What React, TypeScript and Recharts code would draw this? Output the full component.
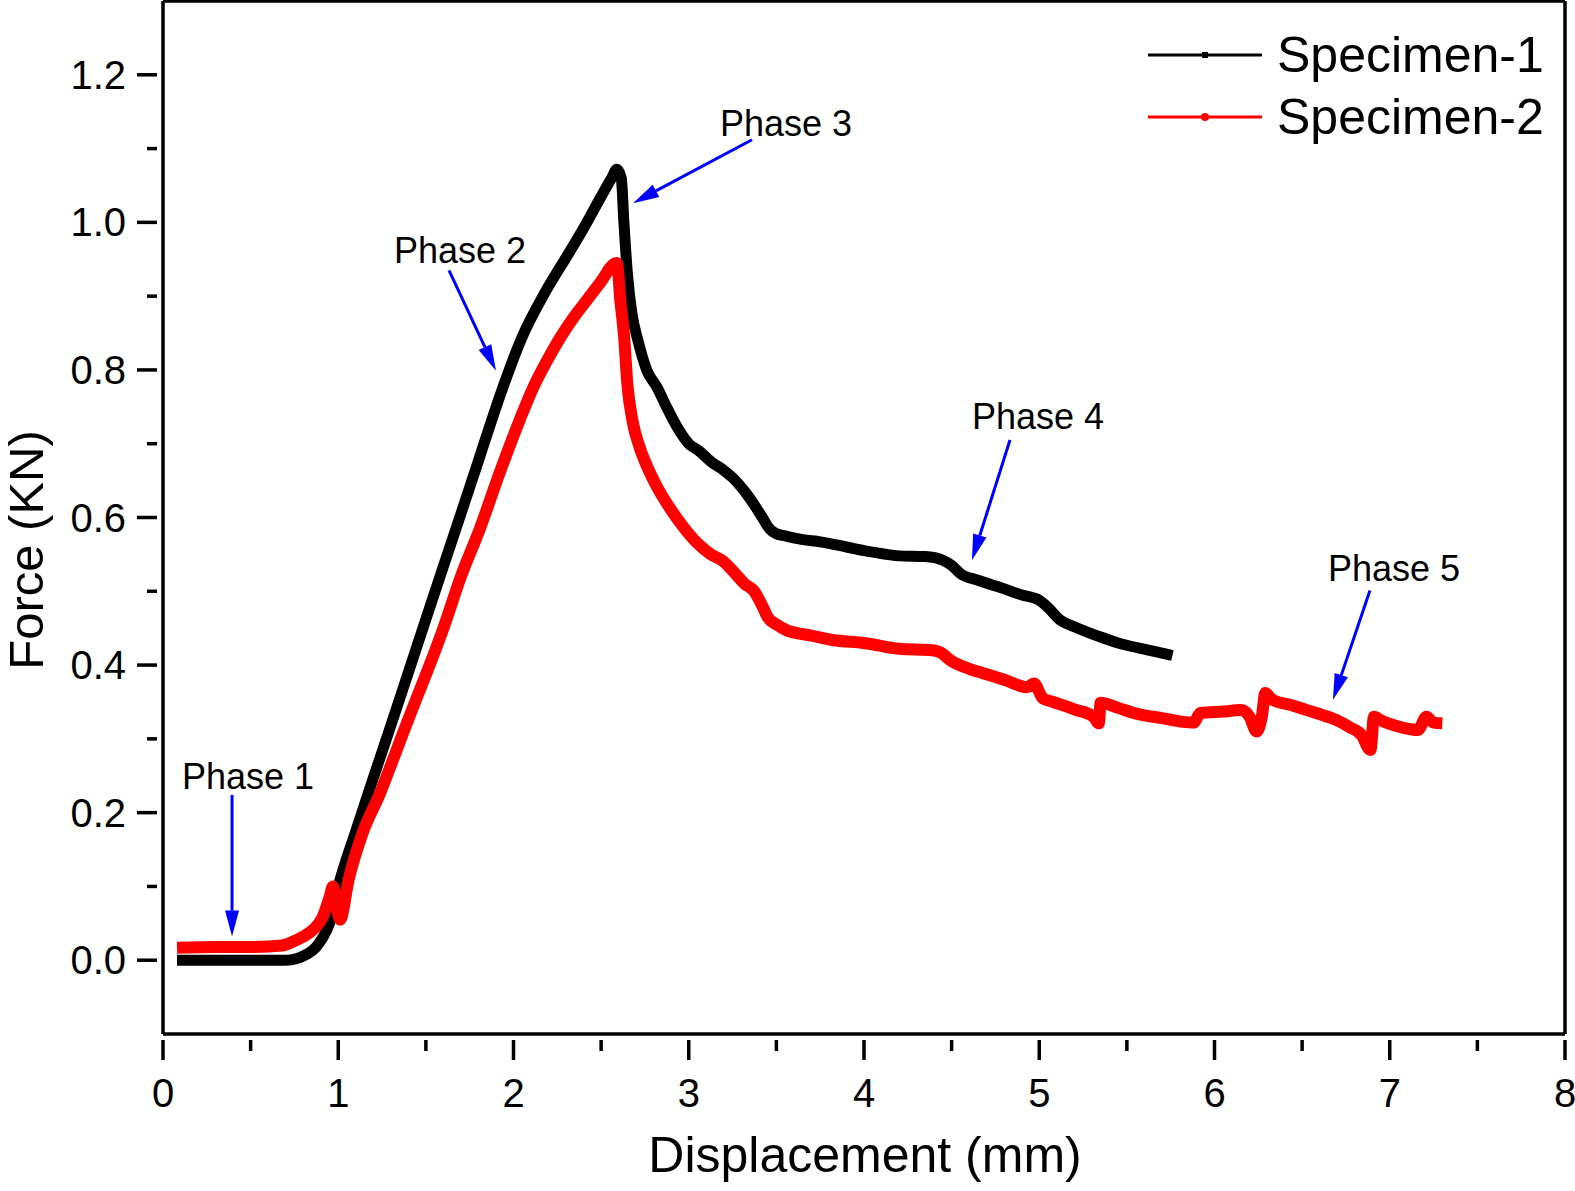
import { LineChart, Line, XAxis, YAxis, ReferenceLine, ReferenceDot, Legend } from "recharts";

const FONT = "'Liberation Sans', Arial, sans-serif";

// Specimen-1 (black)
const s1X = [0.08, 0.3, 0.5, 0.7, 0.76, 0.82, 0.87, 0.91, 0.95, 1.0, 1.1, 1.2, 1.3, 1.4, 1.5, 1.6, 1.7, 1.8, 1.93, 2.05, 2.18, 2.32, 2.4, 2.5, 2.56, 2.59, 2.615, 2.63, 2.65, 2.676, 2.71, 2.76, 2.82, 2.875, 2.94, 3.0, 3.06, 3.13, 3.2, 3.25, 3.33, 3.38, 3.42, 3.46, 3.5, 3.55, 3.65, 3.75, 3.9, 4.05, 4.2, 4.35, 4.45, 4.5, 4.55, 4.65, 4.78, 4.9, 5.0, 5.05, 5.12, 5.2, 5.35, 5.45, 5.57, 5.67, 5.76];
const s1Y = [0, 0, 0, 0, 0.002, 0.008, 0.017, 0.03, 0.05, 0.1, 0.175, 0.247, 0.318, 0.39, 0.462, 0.534, 0.605, 0.677, 0.77, 0.845, 0.905, 0.96, 0.992, 1.035, 1.06, 1.072, 1.06, 1.0, 0.93, 0.876, 0.84, 0.8, 0.776, 0.749, 0.72, 0.7, 0.69, 0.675, 0.664, 0.654, 0.632, 0.615, 0.6, 0.585, 0.578, 0.575, 0.57, 0.567, 0.56, 0.553, 0.548, 0.547, 0.542, 0.535, 0.524, 0.515, 0.505, 0.495, 0.488, 0.478, 0.461, 0.452, 0.438, 0.43, 0.423, 0.418, 0.413];

// Specimen-2 (red)
const s2X = [0.08, 0.3, 0.5, 0.68, 0.74, 0.8, 0.86, 0.91, 0.95, 0.97, 0.99, 1.01, 1.06, 1.14, 1.24, 1.3, 1.37, 1.45, 1.51, 1.6, 1.7, 1.81, 1.92, 2.04, 2.12, 2.19, 2.27, 2.34, 2.42, 2.5, 2.57, 2.59, 2.61, 2.63, 2.65, 2.68, 2.72, 2.77, 2.82, 2.9, 2.97, 3.05, 3.12, 3.2, 3.25, 3.32, 3.37, 3.42, 3.45, 3.5, 3.56, 3.7, 3.82, 4.0, 4.2, 4.39, 4.45, 4.49, 4.6, 4.68, 4.8, 4.93, 4.97, 5.02, 5.08, 5.2, 5.31, 5.34, 5.35, 5.45, 5.54, 5.7, 5.82, 5.88, 5.92, 6.05, 6.15, 6.2, 6.24, 6.27, 6.29, 6.33, 6.45, 6.58, 6.7, 6.77, 6.84, 6.89, 6.91, 6.95, 7.06, 7.16, 7.21, 7.25, 7.3];
const s2Y = [0.017, 0.018, 0.018, 0.02, 0.025, 0.032, 0.042, 0.058, 0.085, 0.1, 0.075, 0.055, 0.11, 0.173, 0.227, 0.264, 0.308, 0.357, 0.393, 0.45, 0.52, 0.586, 0.66, 0.735, 0.78, 0.812, 0.845, 0.87, 0.895, 0.92, 0.943, 0.945, 0.893, 0.849, 0.78, 0.73, 0.695, 0.665, 0.641, 0.61, 0.587, 0.565, 0.551, 0.54, 0.528, 0.51, 0.501, 0.48, 0.465, 0.455, 0.447, 0.44, 0.434, 0.43, 0.422, 0.42, 0.415, 0.407, 0.395, 0.389, 0.38, 0.37, 0.375, 0.355, 0.35, 0.34, 0.33, 0.321, 0.349, 0.342, 0.335, 0.328, 0.323, 0.322, 0.335, 0.337, 0.339, 0.33, 0.31, 0.33, 0.362, 0.353, 0.345, 0.335, 0.325, 0.316, 0.305, 0.285, 0.33, 0.325, 0.316, 0.312, 0.33, 0.322, 0.321];

const seriesNames = ["Specimen-1", "Specimen-2"];
const seriesColors = ["#000000", "#ff0000"];

const xTicks = [0, 0.5, 1, 1.5, 2, 2.5, 3, 3.5, 4, 4.5, 5, 5.5, 6, 6.5, 7, 7.5, 8];
const yTicks = [0, 0.1, 0.2, 0.3, 0.4, 0.5, 0.6, 0.7, 0.8, 0.9, 1.0, 1.1, 1.2];

// annotations
const phaseNames = ["Phase 1", "Phase 2", "Phase 3", "Phase 4", "Phase 5"];
const phaseTextX = [0.485, 1.695, 3.555, 4.993, 7.024];
const phaseTextY = [0.249, 0.962, 1.134, 0.738, 0.532];
const arrowFromX = [0.394, 1.632, 3.361, 4.833, 6.887];
const arrowFromY = [0.224, 0.935, 1.112, 0.705, 0.501];
const arrowToX = [0.394, 1.9, 2.682, 4.616, 6.676];
const arrowToY = [0.032, 0.799, 1.026, 0.542, 0.353];

const s1 = s1X.map((x, i) => ({ x, y: s1Y[i] }));
const s2 = s2X.map((x, i) => ({ x, y: s2Y[i] }));

function XTick(props: any) {
  const { x, y, payload } = props;
  const v = payload.value;
  const major = Number.isInteger(v);
  return (
    <g>
      <line x1={x} x2={x} y1={y} y2={y + (major ? 20 : 11)} stroke="#000" strokeWidth={3.5} />
      {major && (
        <text x={x} y={y + 67} textAnchor="middle" fontSize={40} fontFamily={FONT} fill="#000">
          {v}
        </text>
      )}
    </g>
  );
}

function YTick(props: any) {
  const { x, y, payload } = props;
  const v = payload.value;
  const major = Math.round(v * 10) % 2 === 0;
  return (
    <g>
      <line x1={x} x2={x - (major ? 20 : 10)} y1={y} y2={y} stroke="#000" strokeWidth={3.5} />
      {major && (
        <text x={x - 31} y={y + 14} textAnchor="end" fontSize={40} fontFamily={FONT} fill="#000">
          {v.toFixed(1)}
        </text>
      )}
    </g>
  );
}

function Arrow(props: any) {
  const { x1, y1, x2, y2 } = props;
  const dx = x2 - x1;
  const dy = y2 - y1;
  const len = Math.hypot(dx, dy);
  const ux = dx / len;
  const uy = dy / len;
  const hl = 26;
  const hw = 7;
  const bx = x2 - ux * hl;
  const by = y2 - uy * hl;
  return (
    <g>
      <line x1={x1} y1={y1} x2={bx} y2={by} stroke="#0000ff" strokeWidth={3} />
      <polygon
        points={`${x2},${y2} ${bx - uy * hw},${by + ux * hw} ${bx + uy * hw},${by - ux * hw}`}
        fill="#0000ff"
      />
    </g>
  );
}

function LegendBox() {
  return (
    <svg width={435} height={160}>
      {seriesNames.map((name, i) => {
        const y = 55 + i * 62;
        return (
          <g key={name}>
            <line x1={8} x2={122} y1={y} y2={y} stroke={seriesColors[i]} strokeWidth={3} />
            {i === 0 ? (
              <rect x={62} y={y - 3} width={6} height={6} fill={seriesColors[i]} />
            ) : (
              <circle cx={65} cy={y} r={4} fill={seriesColors[i]} />
            )}
            <text x={137} y={y + 17} fontSize={50} fontFamily={FONT} fill="#000">
              {name}
            </text>
          </g>
        );
      })}
    </svg>
  );
}

export default function App() {
  return (
    <div style={{ position: "absolute", left: 0, top: 0 }}>
      <LineChart width={1575} height={1191} margin={{ top: 1, right: 10, left: 0, bottom: 0 }}>
        <XAxis
          type="number"
          dataKey="x"
          domain={[0, 8]}
          ticks={xTicks}
          interval={0}
          height={157}
          tickLine={false}
          tickMargin={0}
          tick={<XTick />}
          axisLine={{ stroke: "#000", strokeWidth: 3.5 }}
          allowDataOverflow
          label={{
            content: () => (
              <text x={865} y={1172} textAnchor="middle" fontSize={50} fontFamily={FONT} fill="#000">
                Displacement (mm)
              </text>
            ),
          }}
        />
        <YAxis
          type="number"
          dataKey="y"
          domain={[-0.1, 1.3]}
          ticks={yTicks}
          interval={0}
          width={163}
          tickLine={false}
          tickMargin={0}
          tick={<YTick />}
          axisLine={{ stroke: "#000", strokeWidth: 3.5 }}
          allowDataOverflow
          label={{
            content: () => (
              <text
                x={43}
                y={550}
                transform="rotate(-90 43 550)"
                textAnchor="middle"
                fontSize={49}
                fontFamily={FONT}
                fill="#000"
              >
                Force (KN)
              </text>
            ),
          }}
        />
        <ReferenceLine y={1.3} stroke="#000" strokeWidth={3.5} />
        <ReferenceLine x={8} stroke="#000" strokeWidth={3.5} />
        <Line
          data={s1}
          dataKey="y"
          name={seriesNames[0]}
          type="monotone"
          stroke={seriesColors[0]}
          strokeWidth={11}
          dot={false}
          isAnimationActive={false}
        />
        <Line
          data={s2}
          dataKey="y"
          name={seriesNames[1]}
          type="monotone"
          stroke={seriesColors[1]}
          strokeWidth={12}
          dot={false}
          isAnimationActive={false}
        />
        {phaseNames.map((name, i) => (
          <ReferenceLine
            key={"a" + name}
            segment={[
              { x: arrowFromX[i], y: arrowFromY[i] },
              { x: arrowToX[i], y: arrowToY[i] },
            ]}
            shape={<Arrow />}
          />
        ))}
        {phaseNames.map((name, i) => (
          <ReferenceDot
            key={"t" + name}
            x={phaseTextX[i]}
            y={phaseTextY[i]}
            r={0}
            shape={(p: any) => (
              <text x={p.cx} y={p.cy + 13} textAnchor="middle" fontSize={36} fontFamily={FONT} fill="#000">
                {name}
              </text>
            )}
          />
        ))}
        <Legend
          layout="horizontal"
          verticalAlign="middle"
          align="center"
          wrapperStyle={{ position: "absolute", top: 0, left: 1140, width: 435, height: 160 }}
          content={() => <LegendBox />}
        />
      </LineChart>
    </div>
  );
}
